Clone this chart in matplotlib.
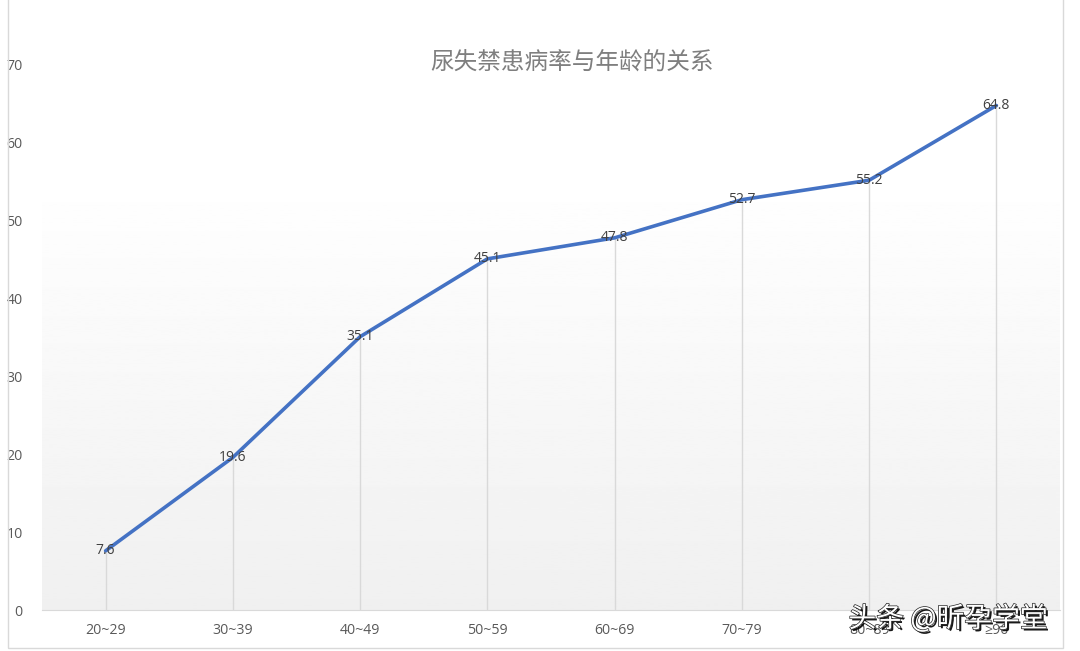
import numpy as np
import matplotlib
matplotlib.use("Agg")
import matplotlib.pyplot as plt
import matplotlib.patheffects as pe
from matplotlib.patches import Rectangle

plt.rcParams['font.family'] = ['Open Sans', 'Noto Sans CJK SC', 'DejaVu Sans']

title = "尿失禁患病率与年龄的关系"
age_groups = ["20~29", "30~39", "40~49", "50~59", "60~69", "70~79", "80~89", "≥90"]
rates = [7.6, 19.6, 35.1, 45.1, 47.8, 52.7, 55.2, 64.8]
yticks = [0, 10, 20, 30, 40, 50, 60, 70]

fig = plt.figure(figsize=(10.8, 6.51), dpi=100)
ax = fig.add_axes([42 / 1080, 41 / 651, 1018 / 1080, 545 / 651])

x = np.arange(len(age_groups))
ax.set_xlim(-0.5, len(age_groups) - 0.5)
ax.set_ylim(0, 70)

# soft gradient backdrop in the lower part of the plot area
grad = np.linspace(0.94, 1.0, 256).reshape(-1, 1)
ax.imshow(grad, cmap='gray', vmin=0, vmax=1, aspect='auto', origin='lower',
          extent=(-0.5, len(age_groups) - 0.5, 0, 56), zorder=0)

# drop lines
ax.vlines(x, 0, rates, color='#d9d9d9', lw=1.0, zorder=1)
ax.plot(x, rates, color='#4472c4', lw=2.6, solid_capstyle='round', zorder=3)
for xi, v in zip(x, rates):
    ax.text(xi, v, f"{v}", ha='center', va='center', fontsize=10,
            color='#404040', zorder=4)

for s in ['top', 'right', 'left']:
    ax.spines[s].set_visible(False)
ax.spines['bottom'].set_color('#d9d9d9')
ax.set_xticks(x)
ax.set_xticklabels(age_groups)
ax.set_yticks(yticks)
ax.tick_params(axis='both', length=0, labelsize=10.2, colors='#595959')
ax.tick_params(axis='y', pad=14)
ax.tick_params(axis='x', pad=9)

fig.text(572 / 1080, 1 - 63 / 651, title, ha='center', va='center',
         fontsize=17, color='#7f7f7f', family=['Noto Sans CJK SC', 'DejaVu Sans'])

# chart frame
fig.patches.append(Rectangle((8 / 1080, 3 / 651), 1055 / 1080, 700 / 651,
                             transform=fig.transFigure, fill=False,
                             edgecolor='#d9d9d9', lw=1.0))

# watermark
fig.text(948 / 1080, 1 - 619 / 651, "头条 @昕孕学堂", ha='center', va='center',
         fontsize=20, color='white', family=['Noto Sans CJK SC', 'DejaVu Sans'],
         path_effects=[pe.withSimplePatchShadow(offset=(1.5, -1.5), shadow_rgbFace='black', alpha=0.9),
                       pe.Stroke(linewidth=1.0, foreground='#222222'), pe.Normal()])

fig.savefig("out.png", dpi=100)
